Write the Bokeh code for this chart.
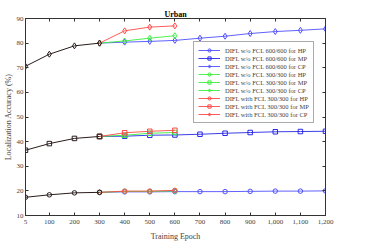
from bokeh.plotting import figure
from bokeh.models import FixedTicker, LinearAxis, Legend, LegendItem, Range1d, CustomJSTickFormatter
from bokeh.embed import file_html
from bokeh.resources import INLINE

# ---- data ----
common_x = [5, 100, 200, 300]
common_hp = [17.4, 18.4, 19.2, 19.4]
common_mp = [36.5, 39.2, 41.3, 42.1]
common_cp = [70.6, 75.5, 78.9, 80.0]

long_x = [300, 400, 500, 600, 700, 800, 900, 1000, 1100, 1200]
blue_hp = [19.4, 19.6, 19.6, 19.7, 19.7, 19.7, 19.8, 19.9, 19.9, 20.0]
blue_mp = [42.1, 42.2, 42.6, 42.7, 43.0, 43.4, 43.7, 44.0, 44.1, 44.2]
blue_cp = [80.0, 80.4, 80.7, 81.1, 82.0, 82.8, 83.9, 84.7, 85.2, 85.8]

short_x = [300, 400, 500, 600]
green_hp = [19.4, 19.8, 19.8, 20.0]
green_mp = [42.1, 42.6, 43.4, 43.7]
green_cp = [80.0, 80.9, 82.0, 83.0]
red_hp = [19.4, 19.9, 19.9, 20.2]
red_mp = [42.1, 43.6, 44.2, 44.6]
red_cp = [80.0, 85.0, 86.5, 87.0]

x_ticks = [5, 100, 200, 300, 400, 500, 600, 700, 800, 900, 1000, 1100, 1200]
x_tick_labels = ["5", "100", "200", "300", "400", "500", "600", "700", "800", "900", "1,000", "1,100", "1,200"]
y_ticks = [10, 20, 30, 40, 50, 60, 70, 80, 90]

labels = [
    "DIFL w/o FCL 600/600 for HP",
    "DIFL w/o FCL 600/600 for MP",
    "DIFL w/o FCL 600/600 for CP",
    "DIFL w/o FCL 300/300 for HP",
    "DIFL w/o FCL 300/300 for MP",
    "DIFL w/o FCL 300/300 for CP",
    "DIFL with FCL 300/300 for HP",
    "DIFL with FCL 300/300 for MP",
    "DIFL with FCL 300/300 for CP",
]

FONT = "Liberation Serif"
AX = "#333333"

p = figure(frame_width=300, frame_height=197, output_backend="svg", toolbar_location=None,
           x_range=Range1d(5, 1200), y_range=Range1d(10, 90),
           min_border_left=17, min_border_right=45, min_border_top=18, min_border_bottom=20)
p.xgrid.visible = False
p.ygrid.visible = False
p.outline_line_color = AX
p.outline_line_width = 1

p.title.text = "Urban"
p.title.align = "center"
p.title.text_font = FONT
p.title.text_font_size = "8px"
p.title.text_font_style = "bold"
p.title.text_color = "#000000"
p.title.standoff = 0
p.title.offset = 0

def style_axis(ax, show_labels=True):
    ax.axis_line_color = AX
    ax.major_tick_line_color = AX
    ax.major_tick_in = 3
    ax.major_tick_out = 0
    ax.minor_tick_line_color = None
    ax.major_label_text_font = FONT
    ax.major_label_text_font_size = "7px"
    ax.major_label_text_color = "#444444"
    ax.major_label_standoff = 2
    ax.axis_label_text_font = FONT
    ax.axis_label_text_font_size = "8px"
    ax.axis_label_text_font_style = "normal"
    ax.axis_label_text_color = "#444444"
    ax.axis_label_standoff = 2
    if not show_labels:
        ax.formatter = CustomJSTickFormatter(code="return '';")
        ax.major_label_standoff = 0
        ax.major_label_text_font_size = "0px"

xa = p.xaxis[0]
xa.ticker = FixedTicker(ticks=x_ticks)
xa.major_label_overrides = {t: l for t, l in zip(x_ticks, x_tick_labels)}
xa.axis_label = "Training Epoch"
style_axis(xa)
xa.major_label_standoff = 4
xa.axis_label_standoff = 5

ya = p.yaxis[0]
ya.ticker = FixedTicker(ticks=y_ticks)
ya.axis_label = "Localization Accuracy (%)"
style_axis(ya)
ya.axis_label_standoff = 1

top = LinearAxis(ticker=FixedTicker(ticks=x_ticks))
style_axis(top, False)
p.add_layout(top, "above")
right = LinearAxis(ticker=FixedTicker(ticks=y_ticks))
style_axis(right, False)
p.add_layout(right, "right")

BLUE_L = "#5050ff"
BLUE_D = "#2828e8"
GREEN = "#3cf03c"
RED = "#ff4848"

series = [
    (long_x, blue_hp, BLUE_L, "circle", 4.5),
    (long_x, blue_mp, BLUE_D, "square", 4.5),
    (long_x, blue_cp, BLUE_L, "diamond", 6),
    (short_x, green_hp, GREEN, "circle", 4.5),
    (short_x, green_mp, GREEN, "square", 4.5),
    (short_x, green_cp, GREEN, "diamond", 6),
    (short_x, red_hp, RED, "circle", 4.5),
    (short_x, red_mp, RED, "square", 4.5),
    (short_x, red_cp, RED, "diamond", 6),
]

items = []
for (xs, ys, col, mk, sz), lab in zip(series, labels):
    l = p.line(xs, ys, line_color=col, line_width=1, line_alpha=0.9)
    s = p.scatter(xs, ys, marker=mk, size=sz, line_color=col, line_width=1, fill_alpha=0)
    items.append(LegendItem(label=lab, renderers=[l, s]))

BLACK = "#2a1c1c"
for ys, mk, sz in [(common_hp, "circle", 4.5), (common_mp, "square", 4.5), (common_cp, "diamond", 6)]:
    p.line(common_x, ys, line_color=BLACK, line_width=1)
    p.scatter(common_x, ys, marker=mk, size=sz, line_color=BLACK, line_width=1, fill_alpha=0)

legend = Legend(items=items, location=(168, 92))
legend.label_text_font = FONT
legend.label_text_font_size = "6.5px"
legend.label_text_color = "#444444"
legend.label_height = 8
legend.glyph_height = 8
legend.glyph_width = 22
legend.label_standoff = 5
legend.spacing = 0
legend.padding = 4
legend.margin = 0
legend.border_line_color = "#555555"
legend.border_line_width = 1
legend.background_fill_color = "white"
legend.background_fill_alpha = 1
p.add_layout(legend, "center")

open("out.html", "w").write(file_html(p, INLINE))
